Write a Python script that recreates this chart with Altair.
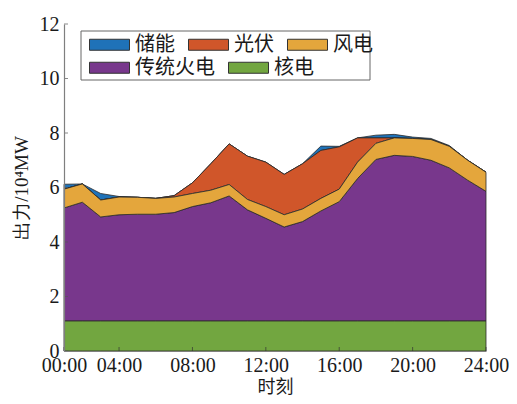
import altair as alt
import pandas as pd

hours = list(range(1, 25))
series_names = ["储能", "光伏", "风电", "传统火电", "核电"]
series_colors = ["#1f72b8", "#d0562a", "#e4a63c", "#78378c", "#72a640"]
stack_rank = [4, 3, 2, 1, 0]

storage = [0.18, 0.00, 0.24, 0.02, 0.00, 0.00, 0.00, 0.00, 0.00, 0.00, 0.00, 0.00,
           0.00, 0.00, 0.16, 0.02, 0.00, 0.10, 0.13, 0.05, 0.04, 0.03, 0.00, 0.00]
pv = [0.00, 0.00, 0.00, 0.00, 0.00, 0.00, 0.05, 0.39, 0.97, 1.49, 1.59, 1.63,
      1.48, 1.66, 1.76, 1.55, 0.89, 0.20, 0.00, 0.00, 0.00, 0.00, 0.00, 0.00]
wind = [0.69, 0.67, 0.62, 0.65, 0.62, 0.58, 0.57, 0.48, 0.46, 0.42, 0.38, 0.43,
        0.45, 0.46, 0.46, 0.46, 0.60, 0.59, 0.64, 0.66, 0.76, 0.79, 0.73, 0.70]
thermal = [4.15, 4.36, 3.82, 3.90, 3.92, 3.92, 3.98, 4.20, 4.34, 4.59, 4.08, 3.77,
           3.45, 3.65, 4.04, 4.38, 5.23, 5.93, 6.08, 6.04, 5.90, 5.62, 5.17, 4.76]
nuclear = [1.10, 1.10, 1.10, 1.10, 1.10, 1.10, 1.10, 1.10, 1.10, 1.10, 1.10, 1.10,
           1.10, 1.10, 1.10, 1.10, 1.10, 1.10, 1.10, 1.10, 1.10, 1.10, 1.10, 1.10]

x_tick_values = [1, 4, 8, 12, 16, 20, 24]
x_tick_labels = ["00:00", "04:00", "08:00", "12:00", "16:00", "20:00", "24:00"]
y_tick_values = [0, 2, 4, 6, 8, 10, 12]

series_values = [storage, pv, wind, thermal, nuclear]
rows = []
for name, rank, vals in zip(series_names, stack_rank, series_values):
    for h, v in zip(hours, vals):
        rows.append({"hour": h, "value": v, "series": name, "rank": rank})
df = pd.DataFrame(rows)

label_expr = ""
for v, lab in zip(x_tick_values, x_tick_labels):
    label_expr += f"datum.value == {v} ? '{lab}' : "
label_expr += "''"

num_font = "Liberation Serif"
cjk_font = "Noto Sans CJK SC"

x_enc = alt.X(
    "hour:Q",
    scale=alt.Scale(domain=[1, 24], nice=False, zero=False),
    axis=alt.Axis(
        values=x_tick_values, labelExpr=label_expr, title="时刻",
        ticks=False, grid=False, labelFlush=False, labelOverlap=False,
        labelPadding=4, titlePadding=3, titleFontSize=18, titleFont=cjk_font,
        zindex=1,
    ),
)
y_enc = alt.Y(
    "y1:Q",
    scale=alt.Scale(domain=[0, 12], nice=False),
    axis=alt.Axis(
        values=y_tick_values, title="出力/10⁴MW", ticks=False, grid=False,
        labelPadding=5, titlePadding=8, titleFontSize=19, titleFont=num_font,
        zindex=1,
    ),
)


def legend_for(y_pos):
    return alt.Legend(
        title=None, orient="none", legendX=25, legendY=y_pos,
        direction="horizontal", columns=3,
        symbolType="M-1,-0.55H3V0.55H-1Z", symbolSize=400,
        symbolStrokeColor="#333333", symbolStrokeWidth=1, symbolOpacity=1,
        labelFont=cjk_font, labelFontSize=20, labelColor="#1a1a1a",
        labelOffset=25, columnPadding=11, padding=0,
    )


stacked = alt.Chart(df).transform_stack(
    stack="value", as_=["y0", "y1"], groupby=["hour"],
    sort=[alt.SortField("rank", order="ascending")],
)

upper_names = series_names[:3]
lower_names = series_names[3:]

areas_upper = stacked.transform_filter(alt.datum.rank >= 2).mark_area(
    stroke="#2b2b2b", strokeWidth=0.8, opacity=1
).encode(
    x=x_enc, y=y_enc, y2="y0:Q",
    color=alt.Color("series:N",
                    scale=alt.Scale(domain=upper_names, range=series_colors[:3]),
                    legend=legend_for(10)),
)
areas_lower = stacked.transform_filter(alt.datum.rank < 2).mark_area(
    stroke="#2b2b2b", strokeWidth=0.8, opacity=1
).encode(
    x=x_enc, y=y_enc, y2="y0:Q",
    color=alt.Color("series:N",
                    scale=alt.Scale(domain=lower_names, range=series_colors[3:]),
                    legend=legend_for(33)),
)

legend_box = alt.Chart(pd.DataFrame({"k": [0]})).mark_rect(
    fill="white", stroke="#666666", strokeWidth=1
).encode(
    x=alt.value(17), x2=alt.value(306), y=alt.value(7), y2=alt.value(56)
)

ytick_df = pd.DataFrame({"v": y_tick_values})
xtick_df = pd.DataFrame({"v": x_tick_values})

yticks = alt.Chart(ytick_df).mark_tick(
    orient="horizontal", size=4, thickness=1, xOffset=2, color="#555555"
).encode(x=alt.datum(1), y=alt.Y("v:Q"))

xticks = alt.Chart(xtick_df).mark_tick(
    orient="vertical", size=4, thickness=1, yOffset=-2, color="#333333"
).encode(x=alt.X("v:Q"), y=alt.datum(0))

chart = alt.layer(areas_lower, areas_upper, legend_box, yticks, xticks).resolve_scale(
    color="independent"
).resolve_legend(color="independent").properties(
    width=501, height=388,
    autosize=alt.AutoSizeParams(type="fit", contains="padding"),
    padding={"left": 4, "top": 6, "right": 0, "bottom": 0},
).configure_view(stroke=None).configure_axis(
    domainColor="#7f7f7f", domainWidth=1.2,
    labelFont=num_font, labelFontSize=20, labelColor="#1a1a1a",
    titleFontWeight="normal", titleColor="#1a1a1a",
)

chart.save("out.html", embed_options={"renderer": "svg", "actions": False})
